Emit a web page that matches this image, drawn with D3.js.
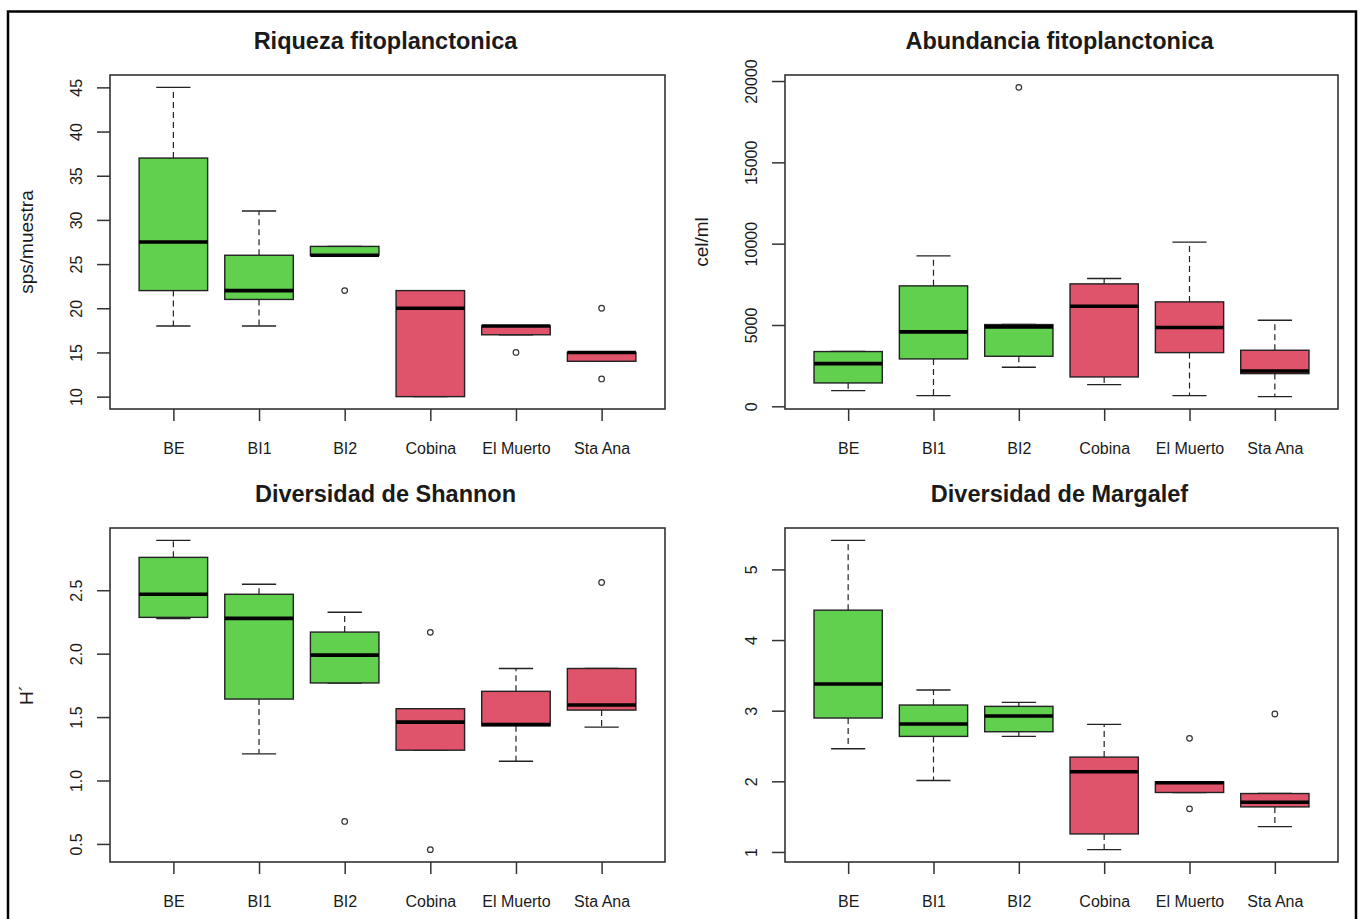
<!DOCTYPE html>
<html>
<head>
<meta charset="utf-8">
<script src="https://cdn.jsdelivr.net/npm/d3@7"></script>
<style>
  body { margin: 0; background: #fff; }
  text { font-family: "Liberation Sans", Arial, sans-serif; fill: #1a1a1a; }
</style>
</head>
<body>
<div id="canvas"></div>
<script>
"use strict"

/* Sites on the x axis, and which zone each one belongs to */
let sites = ["BE", "BI1", "BI2", "Cobina", "El Muerto", "Sta Ana"];
let siteZone = ["in", "in", "in", "out", "out", "out"];

/* Box stats per site: [lower whisker, Q1, median, Q3, upper whisker] */
let riquezaStats = [
    [18, 22, 27.5, 37, 45],
    [18, 21, 22, 26, 31],
    [26, 26, 26, 27, 27],
    [10, 10, 20, 22, 22],
    [17, 17, 18, 18, 18],
    [14, 14, 15, 15, 15]
];
let riquezaOutliers = [[], [], [22], [], [15], [20, 12]];
let riquezaTicks = [10, 15, 20, 25, 30, 35, 40, 45];

let abundanciaStats = [
    [966, 1436, 2627, 3366, 3366],
    [656, 2913, 4574, 7405, 9250],
    [2400, 3077, 4882, 5026, 5026],
    [1333, 1805, 6154, 7528, 7856],
    [656, 3302, 4841, 6420, 10092],
    [595, 2010, 2174, 3446, 5292]
];
let abundanciaOutliers = [[], [], [19610], [], [], []];
let abundanciaTicks = [0, 5000, 10000, 15000, 20000];

let shannonStats = [
    [2.276, 2.286, 2.468, 2.759, 2.893],
    [1.210, 1.642, 2.278, 2.468, 2.547],
    [1.769, 1.769, 1.988, 2.170, 2.326],
    [1.239, 1.239, 1.460, 1.566, 1.566],
    [1.152, 1.431, 1.442, 1.703, 1.883],
    [1.421, 1.555, 1.595, 1.883, 1.883]
];
let shannonOutliers = [[], [], [0.677], [2.168, 0.455], [], [2.561]];
let shannonTicks = [0.5, 1.0, 1.5, 2.0, 2.5];

let margalefStats = [
    [2.461, 2.896, 3.378, 4.423, 5.411],
    [2.012, 2.636, 2.811, 3.080, 3.293],
    [2.636, 2.702, 2.924, 3.061, 3.118],
    [1.033, 1.255, 2.135, 2.343, 2.806],
    [1.842, 1.842, 1.979, 1.993, 1.993],
    [1.359, 1.638, 1.704, 1.827, 1.827]
];
let margalefOutliers = [[], [], [], [], [2.608, 1.610], [2.953]];
let margalefTicks = [1, 2, 3, 4, 5];

/* Canvas */
let svgWidth = 1362;
let svgHeight = 919;

let svg = d3.select("#canvas")
    .append("svg")
    .attr("width", svgWidth)
    .attr("height", svgHeight);

/* Black frame round the whole figure (bottom edge is cut off in the screenshot) */
svg.append("rect")
    .attr("x", 8)
    .attr("y", 11.5)
    .attr("width", 1348)
    .attr("height", 940)
    .attr("fill", "none")
    .attr("stroke", "black")
    .attr("stroke-width", 2.5);

let zoneColor = d3.scaleOrdinal()
    .domain(["in", "out"])
    .range(["#61D04F", "#DF536B"]);

let panels = [
    { title: "Riqueza fitoplanctonica", ylab: "sps/muestra", stats: riquezaStats, outliers: riquezaOutliers, ticks: riquezaTicks, fmt: d3.format("d"), left: 110, top: 75, width: 555 },
    { title: "Abundancia fitoplanctonica", ylab: "cel/ml", stats: abundanciaStats, outliers: abundanciaOutliers, ticks: abundanciaTicks, fmt: d3.format("d"), left: 785, top: 75, width: 553 },
    { title: "Diversidad de Shannon", ylab: "H\u00B4", stats: shannonStats, outliers: shannonOutliers, ticks: shannonTicks, fmt: d3.format(".1f"), left: 110, top: 528, width: 555 },
    { title: "Diversidad de Margalef", ylab: "", stats: margalefStats, outliers: margalefOutliers, ticks: margalefTicks, fmt: d3.format("d"), left: 785, top: 528, width: 553 }
];

let plotHeight = 334;
let boxWidth = 0.8;

panels.forEach(function (p) {
    let g = svg.append("g")
        .attr("transform", "translate(" + p.left + "," + p.top + ")");

    /* R style limits: data range padded by 4% */
    let allValues = d3.merge(p.stats).concat(d3.merge(p.outliers));
    let lo = d3.min(allValues), hi = d3.max(allValues);
    let pad = (hi - lo) * 0.04;

    let yScale = d3.scaleLinear()
        .domain([lo - pad, hi + pad])
        .range([plotHeight, 0]);

    let xScale = d3.scaleLinear()
        .domain([0.5 - 0.24, sites.length + 0.5 + 0.24])
        .range([0, p.width]);

    let boxes = g.selectAll("g.site")
        .data(p.stats)
        .join("g")
        .attr("class", "site");

    /* dashed whiskers */
    boxes.append("line")
        .attr("x1", (d, i) => xScale(i + 1))
        .attr("x2", (d, i) => xScale(i + 1))
        .attr("y1", d => yScale(d[3]))
        .attr("y2", d => yScale(d[4]))
        .attr("stroke", "#222")
        .attr("stroke-width", 1.2)
        .attr("stroke-dasharray", "6,4");
    boxes.append("line")
        .attr("x1", (d, i) => xScale(i + 1))
        .attr("x2", (d, i) => xScale(i + 1))
        .attr("y1", d => yScale(d[1]))
        .attr("y2", d => yScale(d[0]))
        .attr("stroke", "#222")
        .attr("stroke-width", 1.2)
        .attr("stroke-dasharray", "6,4");

    /* staples */
    [0, 4].forEach(function (k) {
        boxes.append("line")
            .attr("x1", (d, i) => xScale(i + 1 - boxWidth / 4))
            .attr("x2", (d, i) => xScale(i + 1 + boxWidth / 4))
            .attr("y1", d => yScale(d[k]))
            .attr("y2", d => yScale(d[k]))
            .attr("stroke", "#222")
            .attr("stroke-width", 1.4);
    });

    /* the box */
    boxes.append("rect")
        .attr("x", (d, i) => xScale(i + 1 - boxWidth / 2))
        .attr("width", xScale(1 + boxWidth / 2) - xScale(1 - boxWidth / 2))
        .attr("y", d => yScale(d[3]))
        .attr("height", d => yScale(d[1]) - yScale(d[3]))
        .attr("fill", (d, i) => zoneColor(siteZone[i]))
        .attr("stroke", "#222")
        .attr("stroke-width", 1.4);

    /* median */
    boxes.append("line")
        .attr("x1", (d, i) => xScale(i + 1 - boxWidth / 2))
        .attr("x2", (d, i) => xScale(i + 1 + boxWidth / 2))
        .attr("y1", d => yScale(d[2]))
        .attr("y2", d => yScale(d[2]))
        .attr("stroke", "black")
        .attr("stroke-width", 3.6);

    /* outliers */
    p.outliers.forEach(function (pts, i) {
        g.selectAll(null)
            .data(pts)
            .join("circle")
            .attr("cx", xScale(i + 1))
            .attr("cy", d => yScale(d))
            .attr("r", 2.8)
            .attr("fill", "white")
            .attr("stroke", "#333")
            .attr("stroke-width", 1.2);
    });

    /* plot frame */
    g.append("rect")
        .attr("width", p.width)
        .attr("height", plotHeight)
        .attr("fill", "none")
        .attr("stroke", "#333")
        .attr("stroke-width", 1.6);

    /* y axis, labels turned like R */
    let yAxis = g.append("g")
        .call(d3.axisLeft(yScale).tickValues(p.ticks).tickFormat(p.fmt).tickSize(13));
    yAxis.select(".domain").remove();
    yAxis.selectAll("line").attr("stroke", "#333").attr("stroke-width", 1.5);
    yAxis.selectAll("text")
        .attr("x", 0)
        .attr("y", -28)
        .attr("dy", 0)
        .attr("transform", "rotate(-90)")
        .style("text-anchor", "middle")
        .style("font-size", "16px")
        .attr("fill", "#1a1a1a");

    /* x axis */
    let xAxis = g.append("g")
        .attr("transform", "translate(0," + plotHeight + ")")
        .call(d3.axisBottom(xScale).tickValues(d3.range(1, sites.length + 1))
            .tickFormat(i => sites[i - 1]).tickSize(12));
    xAxis.select(".domain").remove();
    xAxis.selectAll("line").attr("stroke", "#333").attr("stroke-width", 1.5);
    xAxis.selectAll("text")
        .attr("y", 45)
        .attr("dy", 0)
        .style("font-size", "16px")
        .attr("fill", "#1a1a1a");
    g.selectAll(".tick text").attr("font-family", null);

    /* title */
    g.append("text")
        .attr("x", p.width / 2 - 2)
        .attr("y", -26)
        .style("text-anchor", "middle")
        .style("font-size", "23.5px")
        .style("font-weight", "bold")
        .attr("fill", "#000")
        .text(p.title);

    /* y label */
    g.append("text")
        .attr("transform", "rotate(-90)")
        .attr("x", -plotHeight / 2)
        .attr("y", -77)
        .style("text-anchor", "middle")
        .style("font-size", "19px")
        .attr("fill", "#222")
        .text(p.ylab);
});
</script>
</body>
</html>
